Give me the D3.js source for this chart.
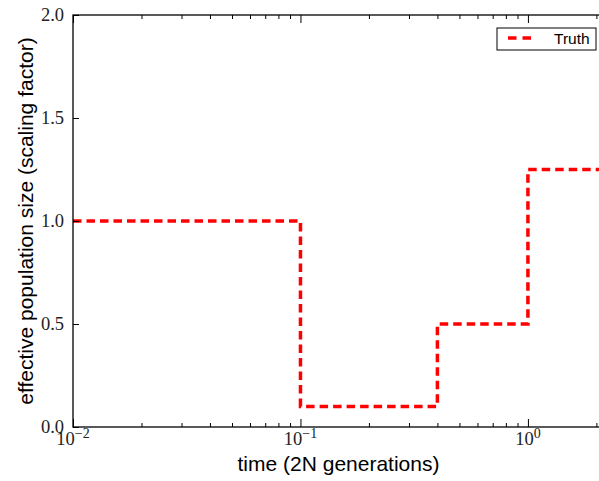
<!DOCTYPE html>
<html>
<head>
<meta charset="utf-8">
<script src="https://cdn.jsdelivr.net/npm/d3@7"></script>
<style>
  html, body { margin: 0; padding: 0; background: #fff; }
  svg { display: block; }
</style>
</head>
<body>
<svg id="chart" width="599" height="481"></svg>
<script>
// Piecewise-constant population size history (time in 2N generations)
const stepStarts = [0.01, 0.1, 0.4, 1.0];
const stepValues = [1.0, 0.1, 0.5, 1.25];
const timeMax = 2.16;
const yTicks = [0.0, 0.5, 1.0, 1.5, 2.0];
const xMajorExponents = [-2, -1, 0];
const seriesName = "Truth";

const margin = { left: 73, top: 15, right: 604, bottom: 427 };
const svg = d3.select("#chart");

const x = d3.scaleLog().domain([0.01, timeMax]).range([margin.left, margin.right]);
const y = d3.scaleLinear().domain([0, 2]).range([margin.bottom, margin.top]);

const serif = "'Liberation Serif', 'DejaVu Serif', serif";
const sans = "'Liberation Sans', Arial, sans-serif";

// Major and minor ticks for the log axis
const majorTicks = xMajorExponents.map(e => Math.pow(10, e));
const minorTicks = [];
xMajorExponents.forEach(e => {
  for (let m = 2; m <= 9; m++) {
    const v = m * Math.pow(10, e);
    if (v <= timeMax) minorTicks.push(v);
  }
});

// Step line
const pts = stepStarts.map((s, i) => [s, stepValues[i]]);
pts.push([timeMax, stepValues[stepValues.length - 1]]);
const line = d3.line().x(d => x(d[0])).y(d => y(d[1])).curve(d3.curveStepAfter);

svg.append("path")
  .datum(pts)
  .attr("d", line)
  .attr("fill", "none")
  .attr("stroke", "#ff0000")
  .attr("stroke-width", 3.5)
  .attr("stroke-dasharray", "8.5,5");

// Frame
svg.append("rect")
  .attr("x", margin.left).attr("y", margin.top)
  .attr("width", margin.right - margin.left)
  .attr("height", margin.bottom - margin.top)
  .attr("fill", "none").attr("stroke", "#000").attr("stroke-width", 1.3);

// Bottom axis ticks (pointing inward)
const bottomAxisG = svg.append("g").attr("transform", `translate(0,${margin.bottom})`);
bottomAxisG.call(d3.axisBottom(x).tickValues(majorTicks).tickSize(-8).tickFormat(""))
  .call(g => g.select(".domain").remove());
bottomAxisG.append("g").call(d3.axisBottom(x).tickValues(minorTicks).tickSize(-4).tickFormat(""))
  .call(g => g.select(".domain").remove());

// Top axis ticks (pointing inward)
const topAxisG = svg.append("g").attr("transform", `translate(0,${margin.top})`);
topAxisG.call(d3.axisTop(x).tickValues(majorTicks).tickSize(-8).tickFormat(""))
  .call(g => g.select(".domain").remove());
topAxisG.append("g").call(d3.axisTop(x).tickValues(minorTicks).tickSize(-4).tickFormat(""))
  .call(g => g.select(".domain").remove());

svg.selectAll(".tick line").attr("stroke", "#000").attr("stroke-width", 1);

// x tick labels as powers of ten
xMajorExponents.forEach(e => {
  const t = svg.append("text")
    .attr("x", x(Math.pow(10, e)))
    .attr("y", 445)
    .attr("text-anchor", "middle")
    .attr("font-family", serif)
    .attr("font-size", 18.5)
    .attr("fill", "#222");
  t.append("tspan").text("10");
  t.append("tspan").attr("dy", -7).attr("font-size", 14).text(e === 0 ? "0" : "\u2212" + Math.abs(e));
});

// Left axis
const leftAxisG = svg.append("g").attr("transform", `translate(${margin.left},0)`);
leftAxisG.call(d3.axisLeft(y).tickValues(yTicks).tickSize(-6).tickFormat(d3.format(".1f")))
  .call(g => g.select(".domain").remove());
leftAxisG.selectAll(".tick line").attr("stroke", "#000");
leftAxisG.selectAll(".tick text")
  .attr("font-family", serif)
  .attr("font-size", 18.5)
  .attr("fill", "#222")
  .attr("x", -9);

// Axis titles
svg.append("text")
  .attr("x", (margin.left + margin.right) / 2)
  .attr("y", 471)
  .attr("text-anchor", "middle")
  .attr("font-family", sans)
  .attr("font-size", 21)
  .text("time (2N generations)");

svg.append("text")
  .attr("transform", `translate(33,${(margin.top + margin.bottom) / 2}) rotate(-90)`)
  .attr("text-anchor", "middle")
  .attr("font-family", sans)
  .attr("font-size", 21)
  .text("effective population size (scaling factor)");

// Legend
const legendG = svg.append("g").attr("transform", "translate(497,28)");
legendG.append("rect").attr("width", 99).attr("height", 22)
  .attr("fill", "#fff").attr("stroke", "#000").attr("stroke-width", 1);
legendG.append("line").attr("x1", 11).attr("x2", 34).attr("y1", 10).attr("y2", 10)
  .attr("stroke", "#ff0000").attr("stroke-width", 3.5).attr("stroke-dasharray", "8.5,6");
legendG.append("text").attr("x", 57).attr("y", 16)
  .attr("font-family", sans).attr("font-size", 15.5).text(seriesName);
</script>
</body>
</html>
